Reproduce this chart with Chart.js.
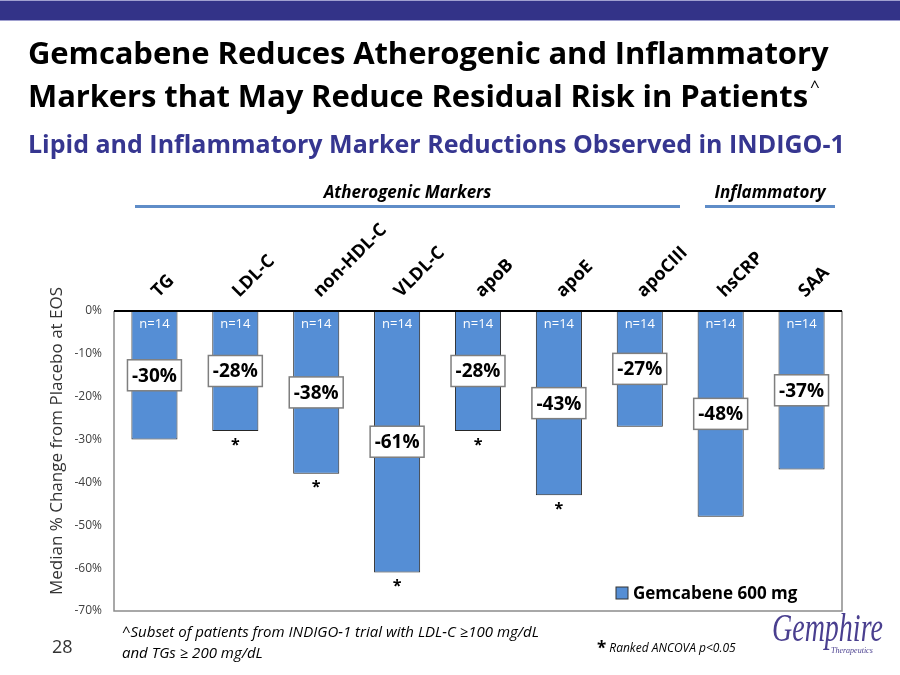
<!DOCTYPE html>
<html lang="en">
<head>
<meta charset="UTF-8">
<title>Gemcabene Reduces Atherogenic and Inflammatory Markers</title>
<script src="https://cdn.jsdelivr.net/npm/chart.js@4"></script>
<style>
  body { margin: 0; width: 900px; height: 675px; position: relative; overflow: hidden; background: #fff;
         font-family: "Open Sans", sans-serif; }
  .abs { position: absolute; white-space: nowrap; }
  #chart { position: absolute; left: 0; top: 0; }
  #topbar { left: 0; top: 0; width: 900px; height: 21px; background: #333388;
            border-top: 1px solid #a0a0d0; border-bottom: 1px solid #a0a0d0; box-sizing: border-box; }
  #title { left: 28px; top: 31px; font-size: 31px; font-weight: bold; line-height: 43px; color: #000; letter-spacing: -0.1px; }
  #title span { font-size: 17px; font-weight: normal; position: relative; top: -15px; line-height: 0; margin-left: 2px; }
  #subtitle { left: 28px; top: 128px; font-size: 25px; font-weight: bold; line-height: 30px; color: #363690; }
  .grp { font-size: 17px; font-weight: bold; font-style: italic; line-height: 22px; color: #000; text-align: center; }
  .grpline { height: 3px; background: #5f8dc8; }
  #ytitle { left: 55px; top: 441px; font-size: 17px; color: #333; transform: translate(-50%, -50%) rotate(-90deg); }
  #page { left: 52px; top: 634px; font-size: 18px; color: #333; }
  #note { left: 122px; top: 621px; font-size: 15px; font-style: italic; line-height: 21px; color: #000; }
  #sig { left: 597px; top: 636px; font-size: 12px; font-style: italic; color: #000; }
  #sig b { font-size: 17px; font-style: normal; vertical-align: -2px; margin-right: 3px; }
  #logo { left: 772px; top: 606px; font-family: "Liberation Serif", serif; font-style: italic; font-size: 28px; color: #4a3f8f;
          transform: scaleY(1.4); transform-origin: left top; }
  #logo2 { left: 831px; top: 646px; font-family: "Liberation Serif", serif; font-style: italic; font-size: 8px; color: #4a3f8f; }
</style>
</head>
<body>
<canvas id="chart" width="900" height="675"></canvas>
<div id="topbar" class="abs"></div>
<div id="title" class="abs">Gemcabene Reduces Atherogenic and Inflammatory<br>Markers that May Reduce Residual Risk in Patients<span>^</span></div>
<div id="subtitle" class="abs">Lipid and Inflammatory Marker Reductions Observed in INDIGO-1</div>

<div class="abs grp" style="left:135px; top:181px; width:545px;">Atherogenic Markers</div>
<div class="abs grpline" style="left:135px; top:205px; width:545px;"></div>
<div class="abs grp" style="left:705px; top:181px; width:130px;">Inflammatory</div>
<div class="abs grpline" style="left:705px; top:205px; width:130px;"></div>

<div id="ytitle" class="abs">Median % Change from Placebo at EOS</div>
<div id="page" class="abs">28</div>
<div id="note" class="abs">^Subset of patients from INDIGO-1 trial with LDL-C ≥100 mg/dL<br>and TGs ≥ 200 mg/dL</div>
<div id="sig" class="abs"><b>*</b>Ranked ANCOVA p&lt;0.05</div>
<div id="logo" class="abs">Gemphire</div>
<div id="logo2" class="abs">Therapeutics</div>

<script>
// data
var markers = ['TG', 'LDL-C', 'non-HDL-C', 'VLDL-C', 'apoB', 'apoE', 'apoCIII', 'hsCRP', 'SAA'];
var medianChange = [-30, -28, -38, -61, -28, -43, -27, -48, -37];
var nCounts = [14, 14, 14, 14, 14, 14, 14, 14, 14];
var significant = [false, true, true, true, true, true, false, false, false];
var yTicks = [0, -10, -20, -30, -40, -50, -60, -70];

var barColor = '#558ed5';
var font = '"Open Sans", sans-serif';

// labels, boxes, frame and legend drawn on top of the bars
var annotate = {
  id: 'annotate',
  afterDatasetsDraw: function(chart) {
    var ctx = chart.ctx;
    var xs = chart.scales.x, ys = chart.scales.y;
    var area = chart.chartArea;
    ctx.save();

    // plot frame
    ctx.strokeStyle = '#8c8c8c';
    ctx.lineWidth = 1.5;
    ctx.beginPath();
    ctx.moveTo(area.left, area.top);
    ctx.lineTo(area.left, area.bottom);
    ctx.lineTo(area.right, area.bottom);
    ctx.lineTo(area.right, area.top);
    ctx.stroke();
    // zero line
    var y0 = ys.getPixelForValue(0);
    ctx.strokeStyle = '#000';
    ctx.lineWidth = 2;
    ctx.beginPath();
    ctx.moveTo(area.left, y0);
    ctx.lineTo(area.right, y0);
    ctx.stroke();

    markers.forEach(function(m, i) {
      var cx = xs.getPixelForValue(i);
      var v = medianChange[i];

      // n= labels
      ctx.fillStyle = '#fff';
      ctx.font = '13px ' + font;
      ctx.textAlign = 'center';
      ctx.textBaseline = 'middle';
      ctx.fillText('n=' + nCounts[i], cx, y0 + 13);

      // value boxes at the middle of the bar
      var my = ys.getPixelForValue(v / 2);
      ctx.font = 'bold 19px ' + font;
      var txt = v + '%';
      var w = ctx.measureText(txt).width + 9, h = 31;
      ctx.fillStyle = '#fff';
      ctx.fillRect(cx - w / 2, my - h / 2, w, h);
      ctx.strokeStyle = '#7f7f7f';
      ctx.lineWidth = 1.5;
      ctx.strokeRect(cx - w / 2, my - h / 2, w, h);
      ctx.fillStyle = '#000';
      ctx.fillText(txt, cx, my + 1);

      // significance marks
      if (significant[i]) {
        ctx.font = 'bold 16px ' + font;
        ctx.fillText('*', cx, ys.getPixelForValue(v) + 14);
      }

      // category labels above the plot
      ctx.save();
      ctx.translate(cx + 4, 298);
      ctx.rotate(-Math.PI / 4);
      ctx.font = 'bold 18px ' + font;
      ctx.textAlign = 'left';
      ctx.textBaseline = 'alphabetic';
      ctx.fillText(m, 0, 0);
      ctx.restore();
    });

    // legend in the lower right of the plot
    var ds = chart.data.datasets[0];
    var lx = 616, ly = ys.getPixelForValue(-65.8);
    ctx.fillStyle = barColor;
    ctx.fillRect(lx, ly - 6, 12, 12);
    ctx.strokeStyle = '#333';
    ctx.lineWidth = 1;
    ctx.strokeRect(lx, ly - 6, 12, 12);
    ctx.fillStyle = '#000';
    ctx.font = 'bold 17px ' + font;
    ctx.textAlign = 'left';
    ctx.textBaseline = 'middle';
    ctx.fillText(ds.label, lx + 17, ly + 1);

    ctx.restore();
  }
};

new Chart(document.getElementById('chart'), {
  type: 'bar',
  data: {
    labels: markers,
    datasets: [{
      label: 'Gemcabene 600 mg',
      data: medianChange,
      backgroundColor: barColor,
      borderColor: '#262626',
      borderWidth: 1,
      categoryPercentage: 1,
      barPercentage: 0.57
    }]
  },
  options: {
    responsive: false,
    animation: false,
    layout: { padding: { top: 311, bottom: 64, left: 54, right: 58 } },
    plugins: { legend: { display: false }, tooltip: { enabled: false } },
    scales: {
      x: { display: false },
      y: {
        min: -70,
        max: 0,
        afterFit: function(scale) { scale.width = 60; },
        afterBuildTicks: function(scale) { scale.ticks = yTicks.map(function(v) { return { value: v }; }); },
        grid: { display: false, drawTicks: false },
        border: { display: false },
        ticks: {
          padding: 12,
          color: '#404040',
          font: { family: font, size: 12 },
          callback: function(v) { return v + '%'; }
        }
      }
    }
  },
  plugins: [annotate]
});
</script>
</body>
</html>
